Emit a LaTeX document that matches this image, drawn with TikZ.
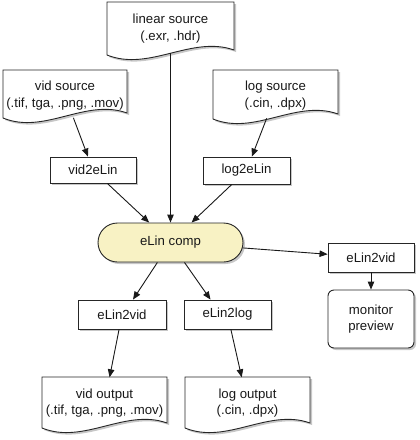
\documentclass[tikz,border=0pt]{standalone}
\usepackage{fontspec}
\setmainfont{Liberation Sans}
\usetikzlibrary{shapes.misc,arrows.meta,shadows,calc}
\definecolor{compyel}{RGB}{248,242,196}
\newcommand{\docp}[4]{(#1,#2) -- (#3,#2) -- (#3,{#4-5}) .. controls ({#3-(#3-#1)/3},{#4-20}) and ({#1+(#3-#1)/3},{#4+17}) .. (#1,#4) -- cycle}
\begin{document}
\begin{tikzpicture}[x=1pt,y=-1pt,
 txt/.style={font=\fontsize{13.2}{16.5}\selectfont, align=center, text=black!90},
 box/.style={txt, draw=black!85, line width=0.9pt, fill=white, rectangle, inner sep=0pt,
   drop shadow={shadow xshift=2pt, shadow yshift=-2pt, opacity=0.22, fill=black}},
 doc/.style={txt, rectangle, inner sep=0pt, draw=none},
 outl/.style={draw=black!85, line width=0.9pt, fill=white},
 shad/.style={fill=black, opacity=0.22},
 arr/.style={draw=black!90, line width=0.9pt, -{Triangle[length=8pt,width=6.5pt]}}]
\useasboundingbox (0,0) rectangle (420,440);

% document shapes (outline + shadow)
\fill[shad, shift={(2,2)}] \docp{107}{2}{234}{55};
\path[outl] \docp{107}{2}{234}{55};
\fill[shad, shift={(2,2)}] \docp{3}{70}{127}{118};
\path[outl] \docp{3}{70}{127}{118};
\fill[shad, shift={(2,2)}] \docp{213}{70}{338}{119};
\path[outl] \docp{213}{70}{338}{119};
\fill[shad, shift={(2,2)}] \docp{42}{377}{167}{428};
\path[outl] \docp{42}{377}{167}{428};
\fill[shad, shift={(2,2)}] \docp{185}{377}{310}{428};
\path[outl] \docp{185}{377}{310}{428};

% document texts
\node[doc, minimum width=127pt, minimum height=53pt] (lin) at (170.5,28.5) {linear source\\(.exr, .hdr)};
\node[doc, minimum width=124pt, minimum height=48pt] (vs) at (65,95.5) {vid source\\(.tif, tga, .png, .mov)};
\node[doc, minimum width=125pt, minimum height=49pt] (ls) at (275.5,95.5) {log source\\(.cin, .dpx)};
\node[doc, minimum width=125pt, minimum height=51pt] (vo) at (104.5,403) {vid output\\(.tif, tga, .png, .mov)};
\node[doc, minimum width=125pt, minimum height=51pt] (lo) at (247.5,403) {log output\\(.cin, .dpx)};

% boxes
\node[box, minimum width=86pt, minimum height=26pt] (v2e) at (93,170) {vid2eLin};
\node[box, minimum width=87pt, minimum height=27pt] (l2e) at (246.5,170.5) {log2eLin};
\node[box, rounded rectangle, fill=compyel, minimum width=145pt, minimum height=39pt] (comp) at (170.5,242.5) {eLin comp};
\node[box, minimum width=88pt, minimum height=29pt] (e2v) at (122,314.5) {eLin2vid};
\node[box, minimum width=87pt, minimum height=29pt] (e2l) at (227.5,314.5) {eLin2log};
\node[box, minimum width=86pt, minimum height=29pt] (e2vr) at (371,257.5) {eLin2vid};
\node[box, rounded corners=6pt, minimum width=86pt, minimum height=58pt] (mon) at (371,319) {monitor\\preview};

% connectors
\draw[arr, shorten <=-2pt] (vs) -- (v2e);
\draw[arr, shorten <=-2pt] (lin) -- (comp);
\draw[arr, shorten <=-2pt] (ls) -- (l2e);
\draw[arr] (v2e) -- (comp);
\draw[arr] (l2e) -- (comp);
\draw[arr] (comp) -- ($(e2v.north)+(11,0)$);
\draw[arr] (comp) -- ($(e2l.north)+(-17,0)$);
\draw[arr] (comp) -- (e2vr);
\draw[arr] (e2vr) -- (mon);
\draw[arr] (e2v) -- (vo);
\draw[arr] (e2l) -- (lo);
\end{tikzpicture}
\end{document}
